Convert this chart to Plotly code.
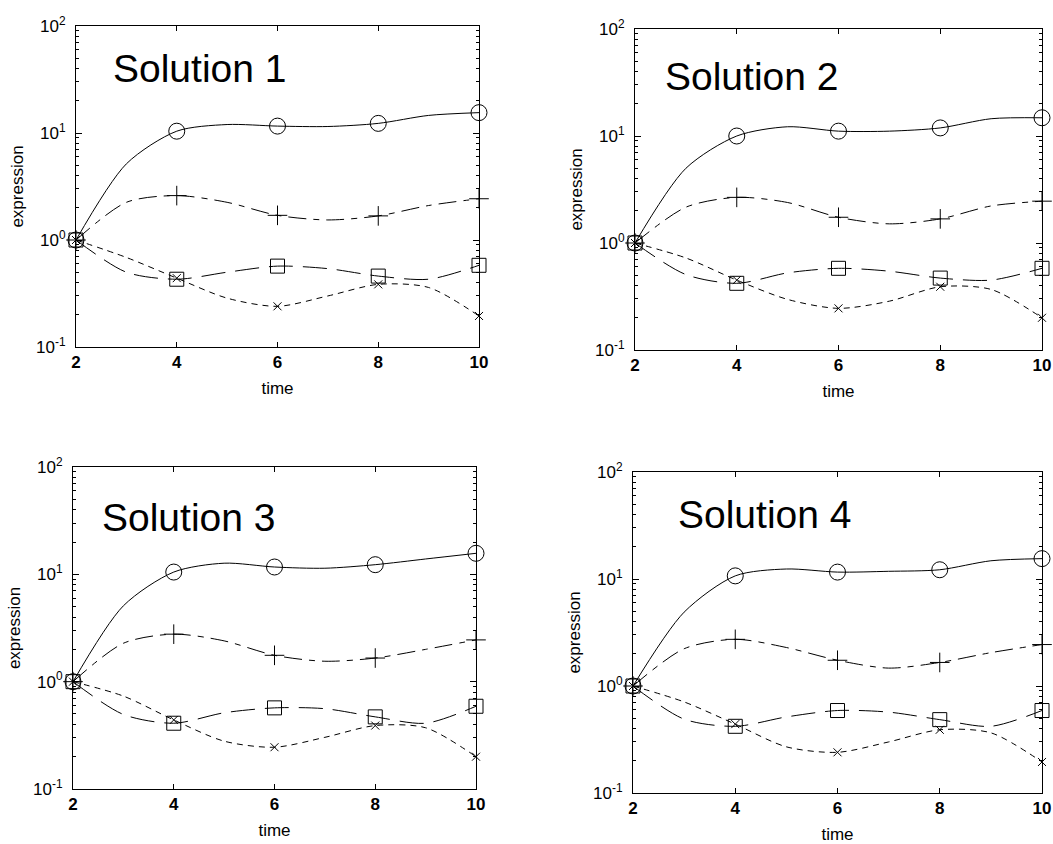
import plotly.graph_objects as go

# ---------------- data ----------------
curve_time = [2, 3, 4, 5, 6, 7, 8, 9, 10]     # sampled points of the drawn curves
marker_time = [2, 4, 6, 8, 10]                 # measured time points (markers)
panel_titles = ["Solution 1", "Solution 2", "Solution 3", "Solution 4"]

# Solution 1
s1_circle = [1.0, 5.15, 10.4, 12.0, 11.6, 11.5, 12.3, 14.6, 15.5]
s1_plus = [1.0, 2.25, 2.6, 2.25, 1.70, 1.54, 1.68, 2.1, 2.43]
s1_square = [1.0, 0.50, 0.43, 0.50, 0.57, 0.54, 0.46, 0.43, 0.58]
s1_cross = [1.0, 0.687, 0.44, 0.286, 0.24, 0.30, 0.385, 0.36, 0.195]

# Solution 2
s2_circle = [1.0, 4.99, 10.0, 12.2, 11.1, 11.1, 11.9, 14.5, 14.8]
s2_plus = [1.0, 2.16, 2.67, 2.39, 1.74, 1.51, 1.68, 2.22, 2.46]
s2_square = [1.0, 0.507, 0.42, 0.526, 0.58, 0.545, 0.47, 0.45, 0.58]
s2_cross = [1.0, 0.725, 0.45, 0.297, 0.245, 0.286, 0.39, 0.368, 0.20]

# Solution 3
s3_circle = [1.0, 5.09, 10.5, 12.7, 11.7, 11.4, 12.3, 13.9, 15.7]
s3_plus = [1.0, 2.28, 2.77, 2.4, 1.76, 1.55, 1.66, 2.0, 2.45]
s3_square = [1.0, 0.495, 0.41, 0.513, 0.57, 0.56, 0.47, 0.41, 0.59]
s3_cross = [1.0, 0.734, 0.44, 0.279, 0.245, 0.303, 0.39, 0.372, 0.20]

# Solution 4
s4_circle = [1.0, 4.9, 10.7, 12.4, 11.6, 11.8, 12.2, 14.8, 15.5]
s4_plus = [1.0, 2.23, 2.73, 2.29, 1.74, 1.47, 1.66, 2.05, 2.44]
s4_square = [1.0, 0.49, 0.42, 0.514, 0.59, 0.57, 0.485, 0.42, 0.59]
s4_cross = [1.0, 0.71, 0.44, 0.27, 0.24, 0.30, 0.39, 0.365, 0.195]

y_tickvals = [0.1, 1, 10, 100]
y_ticktext = ["10<sup>-1</sup>", "10<sup>0</sup>", "10<sup>1</sup>", "10<sup>2</sup>"]
y_minorvals = [0.2, 0.3, 0.4, 0.5, 0.6, 0.7, 0.8, 0.9,
               2, 3, 4, 5, 6, 7, 8, 9,
               20, 30, 40, 50, 60, 70, 80, 90]
x_tickvals = [2, 4, 6, 8, 10]

panels = [
    (s1_circle, s1_plus, s1_square, s1_cross),
    (s2_circle, s2_plus, s2_square, s2_cross),
    (s3_circle, s3_plus, s3_square, s3_cross),
    (s4_circle, s4_plus, s4_square, s4_cross),
]

# ---------------- layout geometry (pixels) ----------------
W, H = 1053, 844
# (left, right, top, bottom) of each plot area in pixels
boxes = [(76, 479, 26, 347), (635, 1042, 29, 350),
         (73, 476, 467, 789), (633, 1042, 472, 793)]
# title text left / vertical centre in pixels
title_pos = [(112, 69), (664, 77), (101, 517), (677, 514)]

FONT = "Liberation Sans, Arial, sans-serif"

styles = [
    dict(symbol="circle-open", size=16, dash="solid"),
    dict(symbol="cross-thin-open", size=14, dash="18px,7px,6px,7px"),
    dict(symbol="square-open", size=14, dash="24px,10px"),
    dict(symbol="x-thin-open", size=8, dash="6px,5px"),
]

fig = go.Figure()
layout = dict(
    width=W, height=H,
    margin=dict(l=0, r=0, t=0, b=0),
    paper_bgcolor="white", plot_bgcolor="white",
    showlegend=False,
    font=dict(family=FONT, color="black"),
    annotations=[],
)

marker_idx = [curve_time.index(t) for t in marker_time]

for i, series in enumerate(panels):
    n = i + 1
    xa = "x" if n == 1 else f"x{n}"
    ya = "y" if n == 1 else f"y{n}"
    for vals, st in zip(series, styles):
        # smooth curve
        fig.add_trace(go.Scatter(
            x=curve_time, y=vals, xaxis=xa, yaxis=ya, mode="lines",
            line=dict(color="black", width=1, dash=st["dash"],
                      shape="spline", smoothing=0.8),
            cliponaxis=True, hoverinfo="skip",
        ))
        # markers at measured time points
        fig.add_trace(go.Scatter(
            x=marker_time, y=[vals[k] for k in marker_idx],
            xaxis=xa, yaxis=ya, mode="markers",
            marker=dict(symbol=st["symbol"], size=st["size"], color="black",
                        line=dict(color="black", width=1)),
            cliponaxis=False,
        ))
    l, r, t, b = boxes[i]
    xkey = "xaxis" if n == 1 else f"xaxis{n}"
    ykey = "yaxis" if n == 1 else f"yaxis{n}"
    layout[xkey] = dict(
        domain=[l / W, r / W], anchor=ya, range=[2, 10],
        tickvals=x_tickvals, ticks="inside", ticklen=5, tickcolor="black",
        showline=True, linecolor="black", linewidth=1, mirror="ticks",
        showgrid=False, zeroline=False,
        tickfont=dict(size=17, family=FONT, weight="bold"),
        ticklabeloverflow="allow",
        title=dict(text="time", font=dict(size=17, family=FONT), standoff=10),
        automargin=False,
    )
    layout[ykey] = dict(
        domain=[1 - b / H, 1 - t / H], anchor=xa, type="log", range=[-1, 2],
        tickvals=y_tickvals, ticktext=y_ticktext,
        ticks="inside", ticklen=6, tickcolor="black",
        minor=dict(tickvals=y_minorvals, ticks="inside", ticklen=3,
                   tickcolor="black", showgrid=False),
        showline=True, linecolor="black", linewidth=1, mirror="ticks",
        showgrid=False, zeroline=False,
        tickfont=dict(size=17, family=FONT),
        ticklabelstandoff=6,
        title=dict(text="expression", font=dict(size=17, family=FONT), standoff=8),
        automargin=False,
    )
    tx, ty = title_pos[i]
    layout["annotations"].append(dict(
        text=panel_titles[i], xref="paper", yref="paper",
        x=tx / W, y=1 - ty / H, xanchor="left", yanchor="middle",
        showarrow=False, font=dict(size=39, family=FONT, color="black"),
        borderpad=0,
    ))

fig.update_layout(**layout)
fig.write_html("out.html", config={"displayModeBar": False},
               post_script="document.body.style.margin='0';")
